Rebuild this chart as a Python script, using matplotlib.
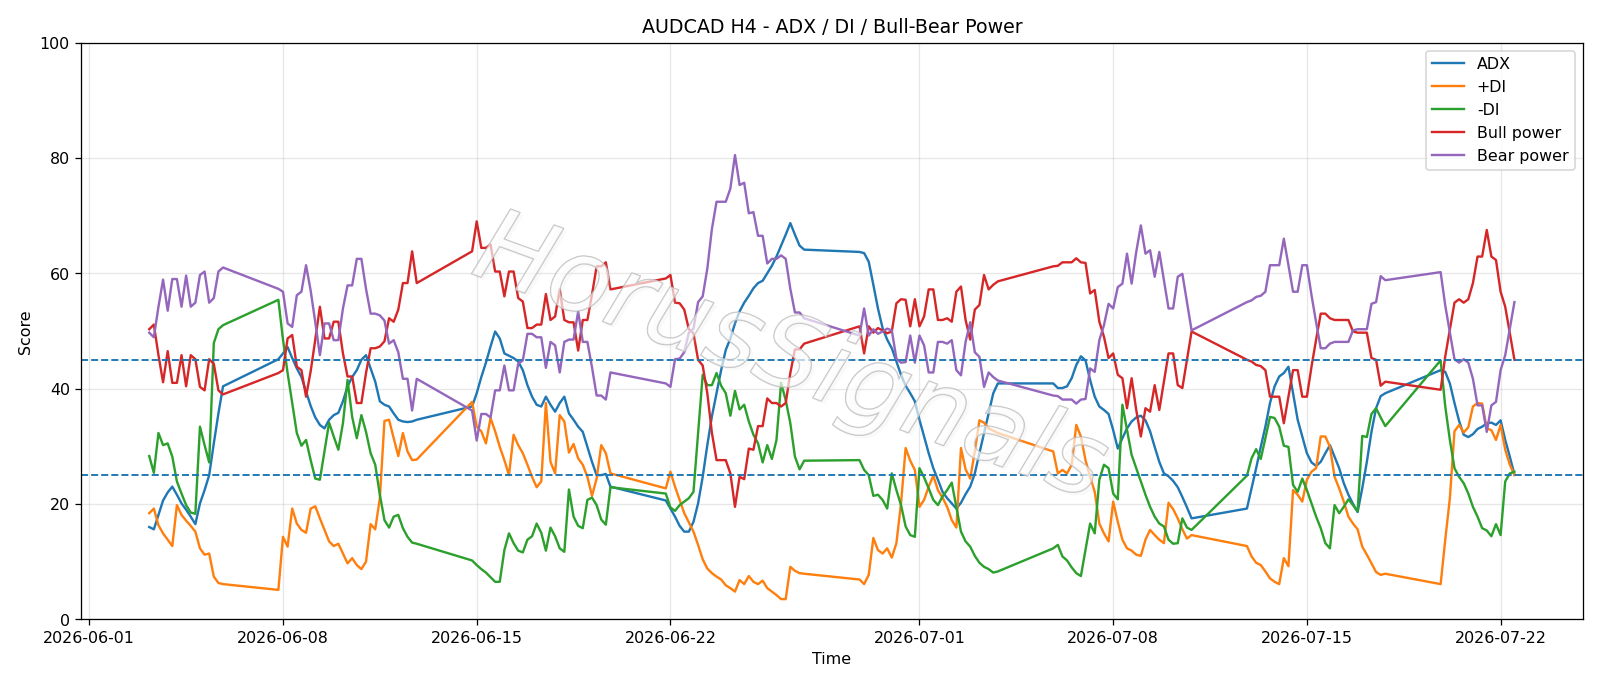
import numpy as np
import pandas as pd
import matplotlib
matplotlib.use("Agg")
import matplotlib.pyplot as plt
import matplotlib.patheffects as pe

# H4 bars, weekends skipped (Sunday 20:00 bar is the weekly open)
start = "2026-06-03 04:00"
end = "2026-07-22 12:00"

adx = [
    16.0, 15.6, 18.1, 20.6, 22.0, 23.0, 21.6, 20.1, 19.0, 17.8, 16.5, 20.1, 22.4, 25.0, 30.5, 35.7, 40.4,
    45.1, 46.1, 47.2, 45.3, 43.5, 42.0, 39.5, 37.0, 35.0, 33.7, 33.1, 34.6, 35.4, 35.8, 37.8, 40.4, 42.0, 43.2, 45.0,
    45.8, 43.5, 41.2, 37.8, 37.2, 36.9, 35.7, 34.6, 34.3, 34.2, 34.3, 34.6,
    36.9, 39.2, 42.0, 44.5, 47.3, 49.9, 48.7, 46.1, 45.7, 45.3, 44.7, 43.2, 40.6, 38.6, 37.2, 36.9, 38.6, 37.2, 36.0,
    37.5, 38.6, 35.7, 34.6, 33.4, 32.5, 29.9, 27.3, 25.0, 25.0, 25.2, 23.0,
    20.6, 19.2, 17.8, 16.2, 15.2, 15.2, 16.9, 20.1, 24.7, 30.2, 35.2, 39.2, 43.2, 46.7, 48.7, 51.3, 53.4, 54.9, 56.1,
    57.4, 58.3, 58.7, 60.0, 61.3, 62.9, 64.8, 66.7, 68.7, 66.7, 64.8, 64.1,
    63.7, 63.5, 62.0, 58.0, 53.9, 50.5, 48.5, 47.0, 44.7, 42.4, 40.5, 39.2, 37.8, 34.6, 31.7, 28.8, 26.2, 24.2, 22.1,
    21.0, 20.1, 19.2, 20.2, 21.7, 23.0, 25.3, 28.8, 32.3, 35.7, 39.2, 40.9,
    40.9, 40.1, 40.1, 40.4, 41.8, 44.1, 45.6, 44.9, 41.5, 38.6, 36.9, 36.3, 35.6, 32.8, 29.6, 31.4, 33.1, 34.3, 35.0,
    35.3, 34.5, 32.6, 29.9, 27.3, 25.3, 24.8, 24.0, 22.9, 21.2, 19.4, 17.5,
    19.2, 22.7, 26.2, 29.9, 33.4, 37.5, 40.4, 42.1, 42.7, 43.8, 39.2, 34.6, 31.7, 28.8, 27.2, 26.6, 27.3, 28.8, 30.2,
    28.2, 26.2, 23.6, 21.6, 20.0, 18.6, 22.7, 27.3, 32.5, 36.6, 38.7, 39.2,
    43.2, 42.9, 40.9, 37.5, 34.4, 32.0, 31.6, 32.1, 33.0, 33.4, 34.0, 34.1, 33.7, 34.5, 31.1, 28.2, 25.1,
]

plus_di = [
    18.4, 19.2, 16.3, 14.9, 13.8, 12.7, 19.8, 18.1, 17.1, 16.2, 15.2, 12.3, 11.2, 11.4, 7.4, 6.3, 6.1,
    5.1, 14.3, 12.6, 19.2, 16.6, 15.5, 15.0, 19.2, 19.6, 17.5, 15.5, 13.5, 12.7, 13.1, 11.4, 9.7, 10.6, 9.4, 8.7,
    10.0, 16.5, 15.6, 21.0, 34.4, 34.6, 31.4, 28.3, 32.3, 29.1, 27.6, 27.7,
    37.7, 33.4, 32.6, 30.5, 34.9, 32.6, 29.9, 27.6, 25.0, 32.0, 30.2, 28.8, 26.8, 24.7, 22.9, 23.9, 37.5, 27.3, 25.3,
    35.4, 34.3, 28.9, 30.4, 27.9, 26.8, 24.7, 21.4, 24.4, 30.2, 28.8, 25.3,
    22.7, 25.6, 23.0, 20.7, 18.4, 16.8, 15.2, 12.9, 10.4, 8.8, 8.0, 7.4, 6.9, 5.9, 5.4, 4.8, 6.8, 6.1, 7.5,
    6.5, 6.1, 6.7, 5.4, 4.8, 4.2, 3.5, 3.5, 9.1, 8.4, 8.0, 7.9,
    6.9, 6.1, 7.7, 14.1, 12.0, 11.4, 12.3, 10.7, 13.2, 20.1, 29.7, 27.5, 25.9, 19.5, 20.7, 23.0, 24.9, 22.4, 21.1,
    19.5, 17.2, 15.9, 29.7, 26.0, 24.4, 29.1, 34.5, 34.1, 33.1, 32.7, 32.3,
    29.1, 25.3, 25.9, 25.3, 26.8, 33.7, 31.7, 27.6, 24.7, 22.1, 16.6, 14.9, 13.5, 20.4, 16.9, 13.8, 12.3, 11.9, 11.2,
    11.0, 13.8, 15.5, 14.6, 13.8, 13.2, 20.2, 19.1, 17.5, 15.6, 14.0, 14.6,
    12.7, 10.9, 9.8, 9.4, 8.3, 7.1, 6.5, 6.1, 10.6, 9.2, 22.4, 21.6, 20.4, 24.2, 25.6, 26.2, 31.7, 31.7, 29.9,
    24.7, 22.7, 20.4, 17.8, 16.6, 15.6, 12.6, 11.2, 9.7, 8.2, 7.7, 7.9,
    6.1, 13.8, 21.0, 32.6, 33.7, 32.4, 33.3, 36.9, 37.5, 37.4, 33.1, 32.8, 31.1, 33.7, 29.4, 26.8, 25.0,
]

minus_di = [
    28.3, 25.4, 32.3, 30.2, 30.5, 28.2, 23.9, 21.8, 19.8, 18.5, 18.3, 33.4, 30.2, 27.2, 47.9, 50.3, 51.0,
    55.4, 48.5, 42.7, 37.5, 32.3, 30.1, 31.1, 27.6, 24.4, 24.2, 29.1, 34.1, 31.7, 29.4, 34.0, 41.5, 35.1, 31.4, 35.4,
    32.5, 28.8, 26.8, 21.6, 17.2, 15.9, 17.8, 18.1, 15.8, 14.3, 13.3, 13.1,
    10.2, 9.4, 8.7, 8.1, 7.3, 6.5, 6.5, 12.0, 14.9, 13.2, 11.9, 11.6, 13.8, 14.4, 16.6, 15.0, 11.9, 15.9, 14.4,
    12.3, 11.7, 22.5, 17.8, 16.2, 15.8, 20.7, 21.1, 19.8, 17.3, 16.4, 22.9,
    21.8, 19.4, 18.8, 19.8, 20.4, 21.0, 22.1, 32.3, 42.4, 40.6, 40.6, 42.7, 40.5, 39.2, 35.3, 39.6, 36.4, 37.2, 34.3,
    32.0, 30.5, 27.2, 30.2, 27.8, 31.1, 41.0, 38.0, 34.0, 28.2, 26.0, 27.5,
    27.6, 25.9, 25.0, 21.4, 21.6, 20.7, 19.2, 25.3, 22.4, 19.8, 16.1, 14.6, 14.3, 26.2, 24.6, 22.7, 20.7, 19.8, 21.3,
    22.4, 23.7, 19.5, 15.2, 13.5, 12.6, 11.0, 9.8, 9.1, 8.7, 8.1, 8.3,
    12.3, 12.9, 10.9, 10.2, 9.0, 8.0, 7.5, 12.0, 16.6, 14.9, 24.2, 26.8, 26.2, 21.8, 20.8, 37.2, 32.8, 28.5, 26.2,
    23.9, 21.6, 19.5, 17.8, 16.6, 16.1, 13.8, 13.1, 13.2, 17.5, 15.9, 15.5,
    24.9, 27.9, 29.5, 27.8, 31.4, 35.1, 34.9, 33.4, 30.1, 29.9, 23.3, 22.1, 24.4, 22.4, 20.1, 17.8, 15.8, 13.2, 12.3,
    19.8, 18.4, 19.5, 20.8, 19.8, 18.7, 31.8, 31.6, 35.6, 36.6, 35.0, 33.5,
    44.9, 36.9, 31.1, 26.2, 24.7, 23.6, 21.8, 19.5, 17.8, 15.8, 15.4, 14.4, 16.5, 14.6, 23.9, 25.3, 25.6,
]

bull = [
    50.3, 51.1, 45.8, 41.1, 46.5, 41.0, 41.0, 45.8, 40.4, 45.8, 45.1, 40.3, 39.7, 45.1, 44.3, 39.7, 39.0,
    42.7, 43.2, 48.7, 49.3, 43.8, 43.2, 38.6, 43.0, 48.5, 54.2, 48.7, 48.7, 51.6, 51.6, 46.1, 42.1, 42.1, 37.5, 37.5,
    42.7, 47.0, 47.0, 47.3, 48.2, 52.2, 51.6, 53.7, 58.3, 58.3, 63.8, 58.3,
    63.8, 69.0, 64.4, 64.4, 65.0, 60.3, 60.3, 56.0, 60.3, 60.3, 55.7, 55.1, 50.5, 50.5, 51.1, 51.1, 56.4, 51.9, 52.5,
    57.2, 51.9, 51.5, 51.5, 46.6, 51.9, 51.9, 56.3, 61.2, 61.2, 61.9, 57.2,
    59.1, 59.7, 54.9, 54.8, 53.7, 50.3, 49.6, 45.0, 44.0, 39.2, 32.3, 27.6, 27.6, 27.6, 25.3, 19.5, 24.7, 24.3, 29.6,
    29.4, 33.5, 33.5, 38.3, 37.5, 37.5, 36.9, 37.5, 42.7, 46.8, 46.8, 47.8,
    50.8, 46.1, 50.8, 49.7, 50.5, 50.1, 49.6, 49.9, 54.8, 55.5, 55.4, 50.8, 55.5, 50.8, 52.5, 57.2, 57.2, 51.9, 51.9,
    52.2, 51.6, 56.8, 57.7, 51.9, 48.5, 53.7, 54.5, 59.7, 57.2, 58.0, 58.6,
    61.2, 61.3, 61.9, 61.9, 61.9, 62.6, 61.9, 61.8, 56.5, 57.1, 51.6, 49.0, 45.3, 46.1, 42.4, 41.8, 36.6, 41.8, 36.3,
    31.7, 36.6, 36.0, 40.6, 36.3, 41.2, 46.1, 46.1, 40.6, 40.1, 45.0, 49.9,
    45.0, 44.7, 44.1, 43.9, 43.2, 38.6, 38.6, 38.6, 34.0, 38.6, 43.2, 43.2, 38.6, 38.6, 43.8, 48.5, 53.0, 53.0, 52.2,
    51.9, 51.9, 51.9, 51.9, 49.9, 49.7, 49.7, 49.7, 45.3, 45.0, 40.5, 41.2,
    39.8, 45.6, 50.2, 54.9, 55.5, 54.9, 55.5, 58.3, 62.9, 62.9, 67.5, 62.9, 62.3, 56.8, 54.2, 49.6, 45.0,
]

bear = [
    49.7, 48.9, 54.2, 58.9, 53.5, 59.0, 59.0, 54.2, 59.6, 54.2, 54.9, 59.7, 60.3, 54.9, 55.7, 60.3, 61.0,
    57.3, 56.8, 51.3, 50.7, 56.2, 56.8, 61.4, 57.0, 51.5, 45.8, 51.3, 51.3, 48.4, 48.4, 53.9, 57.9, 57.9, 62.5, 62.5,
    57.3, 53.0, 53.0, 52.7, 51.8, 47.8, 48.4, 46.3, 41.7, 41.7, 36.2, 41.7,
    36.2, 31.0, 35.6, 35.6, 35.0, 39.7, 39.7, 44.0, 39.7, 39.7, 44.3, 44.9, 49.5, 49.5, 48.9, 48.9, 43.6, 48.1, 47.5,
    42.8, 48.1, 48.5, 48.5, 53.4, 48.1, 48.1, 43.7, 38.8, 38.8, 38.1, 42.8,
    40.9, 40.3, 45.1, 45.2, 46.3, 49.7, 50.4, 55.0, 56.0, 60.8, 67.7, 72.4, 72.4, 72.4, 74.7, 80.5, 75.3, 75.7, 70.4,
    70.6, 66.5, 66.5, 61.7, 62.5, 62.5, 63.1, 62.5, 57.3, 53.2, 53.2, 52.2,
    49.2, 53.9, 49.2, 50.3, 49.5, 49.9, 50.4, 50.1, 45.2, 44.5, 44.6, 49.2, 44.5, 49.2, 47.5, 42.8, 42.8, 48.1, 48.1,
    47.8, 48.4, 43.2, 42.3, 48.1, 51.5, 46.3, 45.5, 40.3, 42.8, 42.0, 41.4,
    38.8, 38.7, 38.1, 38.1, 38.1, 37.4, 38.1, 38.2, 43.5, 42.9, 48.4, 51.0, 54.7, 53.9, 57.6, 58.2, 63.4, 58.2, 63.7,
    68.3, 63.4, 64.0, 59.4, 63.7, 58.8, 53.9, 53.9, 59.4, 59.9, 55.0, 50.1,
    55.0, 55.3, 55.9, 56.1, 56.8, 61.4, 61.4, 61.4, 66.0, 61.4, 56.8, 56.8, 61.4, 61.4, 56.2, 51.5, 47.0, 47.0, 47.8,
    48.1, 48.1, 48.1, 48.1, 50.1, 50.3, 50.3, 50.3, 54.7, 55.0, 59.5, 58.8,
    60.2, 54.4, 49.8, 45.1, 44.5, 45.1, 44.5, 41.7, 37.1, 37.1, 32.5, 37.1, 37.7, 43.2, 45.8, 50.4, 55.0,
]

levels = [45, 25]

rng = pd.date_range(start, end, freq="4h")
keep = (rng.dayofweek < 5) | ((rng.dayofweek == 6) & (rng.hour == 20))
times = rng[keep]

df = pd.DataFrame({"ADX": adx, "+DI": plus_di, "-DI": minus_di,
                   "Bull power": bull, "Bear power": bear}, index=times)

DPI = 114.3
fig, ax = plt.subplots(figsize=(1600.3 / DPI, 686.3 / DPI), dpi=DPI)
fig.subplots_adjust(left=0.0506, right=0.989, top=0.9375, bottom=0.0972)

for col in df.columns:
    ax.plot(df.index, df[col], label=col, lw=1.5)

for lv in levels:
    ax.axhline(lv, ls="--", lw=1.2, color="tab:blue")

ax.set_ylim(0, 100)
ax.set_title("AUDCAD H4 - ADX / DI / Bull-Bear Power")
ax.set_xlabel("Time")
ax.set_ylabel("Score")
ax.grid(True, alpha=0.3)
ax.legend(loc="upper right")

# watermark
ax.text(0.472, 0.45, "HorusSignals", transform=ax.transAxes,
        fontsize=64, style="italic", rotation=-20,
        ha="center", va="center", color=(1, 1, 1, 0.4), zorder=10,
        path_effects=[pe.SimplePatchShadow(offset=(2, -2), shadow_rgbFace=(0.85, 0.85, 0.85), alpha=0.15),
                      pe.Stroke(linewidth=0.9, foreground=(0.7, 0.7, 0.7, 0.8)),
                      pe.Normal()])

fig.savefig("out.png", dpi=DPI)
